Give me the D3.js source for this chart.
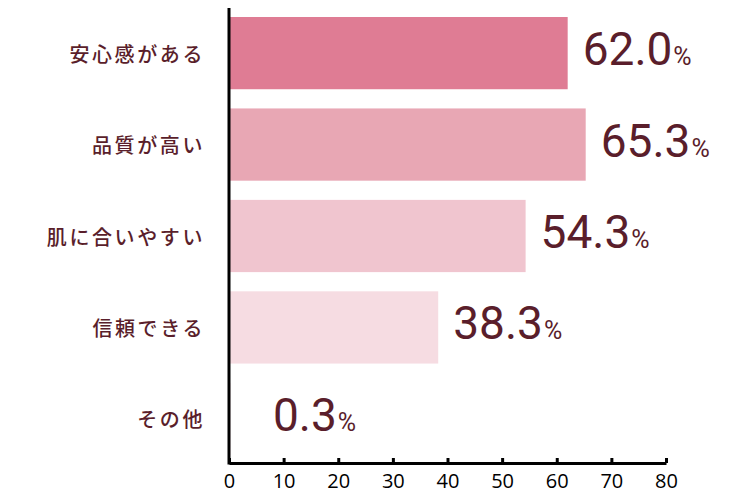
<!DOCTYPE html>
<html>
<head>
<meta charset="utf-8">
<script src="https://cdn.jsdelivr.net/npm/d3@7"></script>
<style>
  body { margin: 0; background: #fff; }
  svg { display: block; }
</style>
</head>
<body>
<svg id="chart"></svg>
<script>
var categories = ["安心感がある", "品質が高い", "肌に合いやすい", "信頼できる", "その他"];
var values = [62.0, 65.3, 54.3, 38.3, 0.3];
var barColors = ["#df7c94", "#e8a7b4", "#f0c5cf", "#f6dce2", "#fbecef"];
var ticks = [0, 10, 20, 30, 40, 50, 60, 70, 80];

var width = 750, height = 495;
var ink = "#5a1e2b";

var svg = d3.select("#chart")
    .attr("width", width)
    .attr("height", height);

var x = d3.scaleLinear().domain([0, 80]).range([229, 666]);
var y = d3.scaleBand()
    .domain(categories)
    .range([17, 455])
    .paddingInner(0.21)
    .paddingOuter(0);

var data = categories.map(function(c, i){
    return {name: c, value: values[i], color: barColors[i]};
});

// bars
svg.selectAll("rect.bar")
    .data(data)
    .enter().append("rect")
    .attr("class", "bar")
    .attr("x", x(0) + 1)
    .attr("y", d => y(d.name))
    .attr("width", d => Math.max(0, x(d.value) - x(0) - 1))
    .attr("height", y.bandwidth())
    .attr("fill", d => d.color);

// value labels
var labels = svg.selectAll("text.val")
    .data(data)
    .enter().append("text")
    .attr("class", "val")
    .attr("x", d => Math.max(x(d.value) + 15, x(0) + 44))
    .attr("y", d => y(d.name) + y.bandwidth() / 2 + 12)
    .attr("fill", ink)
    .style("font-family", "Roboto, 'Liberation Sans Narrow', sans-serif")
    .style("font-size", "46px");
labels.append("tspan").text(d => d.value.toFixed(1));
labels.append("tspan")
    .attr("dx", 1)
    .style("font-size", "25px")
    .text("%");

// category labels
svg.selectAll("text.cat")
    .data(data)
    .enter().append("text")
    .attr("class", "cat")
    .attr("x", 205)
    .attr("y", d => y(d.name) + y.bandwidth() / 2)
    .attr("text-anchor", "end")
    .attr("dominant-baseline", "central")
    .attr("fill", ink)
    .style("font-family", "'Noto Sans CJK JP', sans-serif")
    .style("font-weight", 500)
    .style("font-size", "20px")
    .style("letter-spacing", "2.6px")
    .text(d => d.name);

// x axis
var xAxis = svg.append("g")
    .attr("transform", "translate(0,463)")
    .call(d3.axisBottom(x).tickValues(ticks).tickSize(-5).tickPadding(11).tickSizeOuter(0));
xAxis.select(".domain").attr("stroke", "#000").attr("stroke-width", 3);
xAxis.selectAll(".tick line").attr("stroke", "#000").attr("stroke-width", 3);
xAxis.selectAll(".tick text")
    .attr("fill", "#000")
    .attr("dy", "0.71em")
    .style("font-family", "'Open Sans', sans-serif")
    .style("font-size", "20px");

// y axis line
svg.append("line")
    .attr("x1", x(0)).attr("x2", x(0))
    .attr("y1", 8).attr("y2", 464.5)
    .attr("stroke", "#000")
    .attr("stroke-width", 3);
</script>
</body>
</html>
